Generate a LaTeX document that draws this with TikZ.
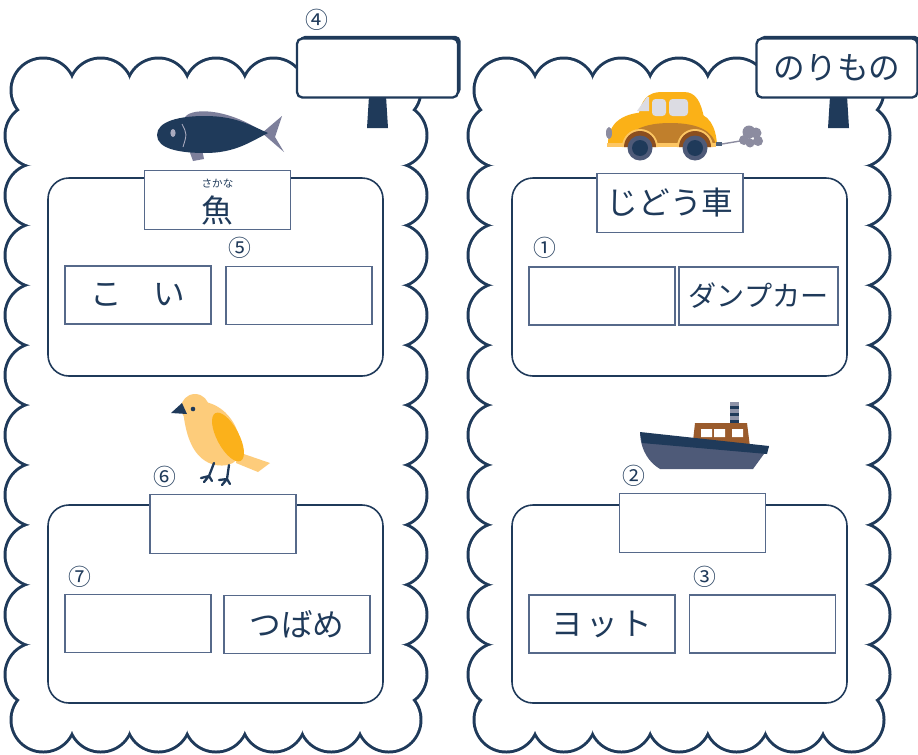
\documentclass[tikz,border=0pt]{standalone}
\usepackage{fontspec}
\newfontfamily\jp{Noto Sans CJK JP}
\usetikzlibrary{calc}
\definecolor{navy}{HTML}{1F3A5A}
\definecolor{boxline}{HTML}{56698A}
\definecolor{fin}{HTML}{7D7F9B}
\definecolor{eyegray}{HTML}{A9AABE}
\definecolor{carbody}{HTML}{FBB117}
\definecolor{carlow}{HTML}{C07F2C}
\definecolor{cararch}{HTML}{8B4E1F}
\definecolor{carlight}{HTML}{FDC663}
\definecolor{glass}{HTML}{DCDCE3}
\definecolor{rim}{HTML}{4E5A78}
\definecolor{smoke}{HTML}{8C8CA0}
\definecolor{birdlight}{HTML}{FDCC7B}
\definecolor{birdwing}{HTML}{FBB11B}
\definecolor{hull}{HTML}{4E5A78}
\definecolor{cabin}{HTML}{9A5B2C}
\definecolor{funnel}{HTML}{8E93A8}
\tikzset{
  scallop/.style={draw=navy, line width=3.4pt},
  frame/.style={draw=navy, line width=0.9pt, rounded corners=0.42cm},
  answer/.style={draw=boxline, line width=0.7pt, fill=white, inner sep=0pt,
    minimum width=2.92cm, minimum height=1.16cm, text=navy,
    font=\jp\fontsize{18}{20}\selectfont},
  title/.style={answer, line width=1.1pt, minimum height=1.18cm},
  board/.style={draw=navy, line width=1.3pt, fill=white, rounded corners=3pt,
    minimum width=3.22cm, minimum height=1.18cm, inner sep=0pt, text=navy,
    font=\jp\fontsize{18}{20}\selectfont,
    preaction={fill=navy, transform canvas={xshift=1.5pt, yshift=1.5pt}}},
  num/.style={inner sep=0pt, text=navy, font=\jp\fontsize{13}{13}\selectfont},
  ruby/.style={inner sep=0pt, text=navy, font=\jp\fontsize{6}{6}\selectfont},
  big/.style={inner sep=0pt, text=navy, font=\jp\fontsize{18}{20}\selectfont},
}
% wavy card: a ring of circles, stroked and then blanked inside
\newcommand{\wavycard}{%
  \foreach \i in {0,...,6} {
    \draw[scallop] (43.2+57.6*\i,90.2) circle[radius=30.7];
    \draw[scallop] (43.2+57.6*\i,719.8) circle[radius=30.7];
  }
  \foreach \j in {0,...,9} {
    \draw[scallop] (37.2,135.5+59.9*\j) circle[radius=30.7];
    \draw[scallop] (394.8,135.5+59.9*\j) circle[radius=30.7];
  }
  \foreach \i in {0,...,6} {
    \fill[white] (43.2+57.6*\i,90.2) circle[radius=30.7];
    \fill[white] (43.2+57.6*\i,719.8) circle[radius=30.7];
  }
  \foreach \j in {0,...,9} {
    \fill[white] (37.2,135.5+59.9*\j) circle[radius=30.7];
    \fill[white] (394.8,135.5+59.9*\j) circle[radius=30.7];
  }
  \fill[white] (37.2,90.2) rectangle (394.8,719.8);
}
\begin{document}
\begin{tikzpicture}[x=0.02cm,y=-0.02cm]
\useasboundingbox (0,0) rectangle (918,754);

\wavycard
\begin{scope}[shift={(463,0)}]
\wavycard
\end{scope}

% sign posts
\fill[navy] (369,96) -- (386,96) -- (388,128) -- (367,128) -- cycle;
\fill[navy] (830,96) -- (847,96) -- (849,128) -- (828,128) -- cycle;
\node[board] at (377.5,68) (signL) {};
\node[num] at (317,20) (n4) {④};
\node[board] at (837,68) (signR) {のりもの};

% fish
\fill[fin] (184,119) .. controls (188,107) and (225,108) .. (258,129) -- (238,124) -- cycle;
\fill[fin] (189,150) -- (193,161) -- (204,159) -- (202,149) -- cycle;
\fill[fin] (262,133) -- (282,116) .. controls (279,126) .. (275,137)
  .. controls (279,144) .. (284,152) -- cycle;
\fill[navy] (157,135) .. controls (157,121) and (180,116) .. (205,116)
  .. controls (235,116) and (250,125) .. (268,133)
  .. controls (250,142) and (235,153) .. (205,153)
  .. controls (180,153) and (157,149) .. (157,135) -- cycle;
\fill[eyegray] (173,133) ellipse[x radius=2.6, y radius=4];
\draw[eyegray, line width=0.5pt] (182,124) .. controls (187,134) .. (183,147);

\draw[frame] (48,178) rectangle (383,376);
\node[title] at (217.5,200) (fishT) {};
\node[ruby] at ([yshift=-0.27cm]fishT.north) (fishR) {さかな};
\node[big] at ([yshift=-0.2cm]fishT.center) (fishW) {魚};
\node[num] at (240,248) (n5) {⑤};
\node[answer] at (138,295) (koi) {こ　い};
\node[answer] at (299,295.5) (fishB) {};

% bird
\fill[birdlight] (238,452) -- (270,463) -- (258,472) -- (236,463) -- cycle;
\fill[birdlight] (183,410) .. controls (186,440) and (195,460) .. (215,465)
  .. controls (235,468) and (243,458) .. (240,440)
  .. controls (236,420) and (222,405) .. (205,402) -- cycle;
\fill[birdlight] (195,408) circle[radius=14];
\fill[birdwing, rotate around={28:(228,437)}] (228,437) ellipse[x radius=11, y radius=27];
\fill[navy] (182,403) -- (171,413) -- (187,414) -- cycle;
\fill[navy] (193,409) circle[radius=2.3];
\draw[navy, line width=1.3pt, line cap=round]
  (214,463) -- (209,476) -- (201,478) (209,476) -- (204,482) (209,476) -- (212,481)
  (229,465) -- (227,479) -- (219,480) (227,479) -- (222,485) (227,479) -- (230,484);

\draw[frame] (48,505) rectangle (383,703);
\node[title] at (223,524) (birdT) {};
\node[num] at (165,477) (n6) {⑥};
\node[num] at (80,577) (n7) {⑦};
\node[answer] at (138,623.5) (birdA) {};
\node[answer] at (297,624.5) (tsubame) {つばめ};

% car
\fill[carbody] (638,118) .. controls (641,99) and (648,92) .. (662,92) -- (684,92)
  .. controls (696,92) and (701,102) .. (704,118) -- cycle;
\fill[carbody] (608,144) .. controls (608,121) and (625,112) .. (650,112) -- (690,112)
  .. controls (710,112) and (716,128) .. (717,145) -- cycle;
\fill[carlow] (624,145) .. controls (628,130) and (645,123) .. (670,123)
  .. controls (700,123) and (713,132) .. (716,145) -- cycle;
\fill[glass] (637,111) -- (647,97) -- (649,97) -- (649,111) -- cycle;
\fill[glass, rounded corners=2pt] (652,99) rectangle (666,116);
\fill[glass, rounded corners=2pt] (669,99) rectangle (688,116);
\fill[smoke] (609,133) ellipse[x radius=3, y radius=6];
\fill[carlight] (607,143) rectangle (716,147);
\foreach \cx in {640,695} {
  \fill[carlight] (\cx-18,147) arc[start angle=180, end angle=360, radius=18] -- cycle;
  \fill[cararch] (\cx-16,147) arc[start angle=180, end angle=360, radius=16] -- cycle;
  \fill[rim] (\cx,148) circle[radius=12.5];
  \fill[navy] (\cx,148) circle[radius=8];
}
\fill[navy!80] (716,142) rectangle (722,145.5);
\draw[smoke, line width=0.8pt] (722,144) -- (740,141);
\fill[smoke] (744,140) circle[radius=5] (749,132) circle[radius=6.5] (756,133) circle[radius=5.5]
  (758,141) circle[radius=5] (750,143) circle[radius=4.5];

\draw[frame] (512,178) rectangle (847,376);
\node[title] at (670,203) (carT) {じどう車};
\node[num] at (545,248) (n1) {①};
\node[answer] at (602,296) (carA) {};
\node[answer, minimum width=3.18cm, font=\jp\fontsize{16}{18}\selectfont] at (758.5,296) (dump) {ダンプカー};

% ship
\foreach \k in {0,...,5} {
  \pgfmathsetmacro{\ty}{402+3.5*\k}
  \ifodd\k \fill[navy] (730,\ty) rectangle (739,\ty+3.5); \else \fill[funnel] (730,\ty) rectangle (739,\ty+3.5); \fi
}
\fill[cabin] (695,423) -- (747,423) -- (750,447) -- (693,441) -- cycle;
\fill[white] (701,429) rectangle (712,437) (714,429) rectangle (725,437) (732,429) rectangle (743,437);
\fill[hull] (640,433) .. controls (641,452) and (650,463) .. (660,469) -- (753,469) -- (769,447) -- cycle;
\fill[navy] (640,432) -- (769,446) -- (767,454) -- (642,443) -- cycle;

\draw[frame] (512,505) rectangle (847,703);
\node[title] at (692.5,523) (shipT) {};
\node[num] at (634,476) (n2) {②};
\node[num] at (705,577) (n3) {③};
\node[answer] at (602,624) (yacht) {ヨ\hspace{0.1em}ッ\hspace{0.1em}ト};
\node[answer] at (762.5,624) (shipB) {};
\end{tikzpicture}
\end{document}
